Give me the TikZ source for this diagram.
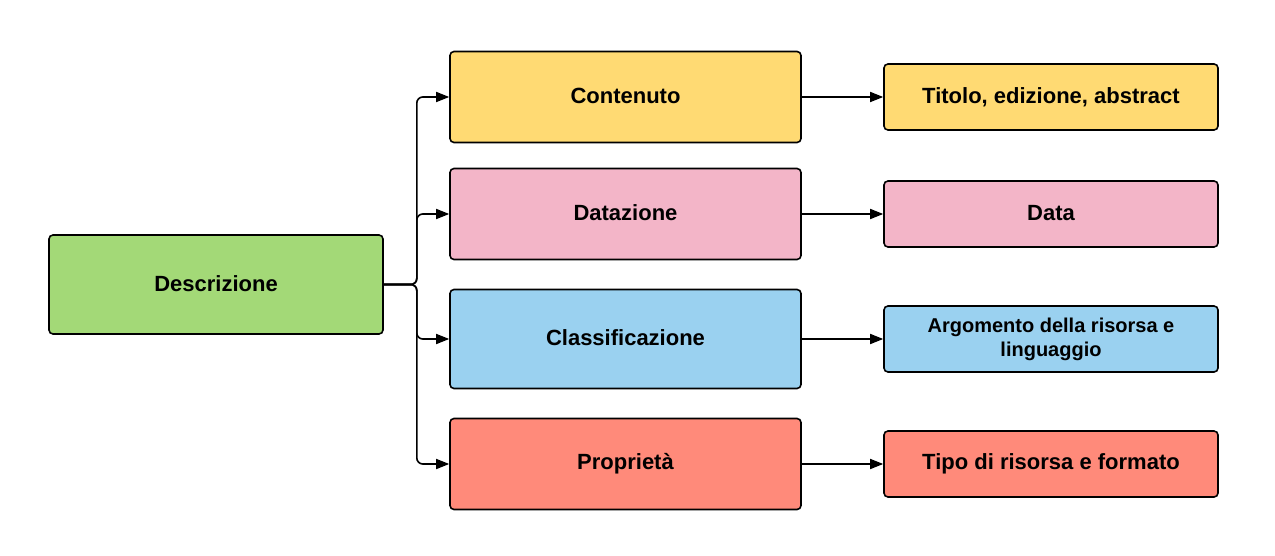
\documentclass[tikz,border=0pt]{standalone}
\usepackage{fontspec}
\setmainfont{Liberation Sans}
\usetikzlibrary{arrows.meta}
\definecolor{cgreen}{HTML}{A3D977}
\definecolor{cyellow}{HTML}{FFDA73}
\definecolor{cpink}{HTML}{F3B5C8}
\definecolor{cblue}{HTML}{9AD1F0}
\definecolor{cred}{HTML}{FF8A7A}
\tikzset{
  box/.style={draw=black, line width=1.6pt, rounded corners=4pt, align=center,
    font=\fontsize{22}{26}\selectfont\bfseries, inner sep=0pt},
  midbox/.style={box, minimum width=351pt, minimum height=91pt},
  rbox/.style={box, minimum width=334pt, minimum height=66pt},
  arr/.style={draw=black, line width=1.6pt, -{Triangle[length=13pt,width=10pt]}},
}
\begin{document}
\begin{tikzpicture}[x=1pt,y=-1pt]
\useasboundingbox (0,0) rectangle (1275,556);
\node[box, fill=cgreen, minimum width=334pt, minimum height=99pt] (desc) at (216,284.5) {\raisebox{2pt}{Descrizione}};
\node[midbox, fill=cyellow] (cont) at (625.5,97) {\raisebox{2pt}{Contenuto}};
\node[midbox, fill=cpink] (dat) at (625.5,214) {\raisebox{2pt}{Datazione}};
\node[midbox, fill=cblue, minimum height=99pt] (cla) at (625.5,339) {\raisebox{2pt}{Classificazione}};
\node[midbox, fill=cred] (pro) at (625.5,464) {\raisebox{2pt}{Proprietà}};
\node[rbox, fill=cyellow] (tit) at (1051,97) {\raisebox{2pt}{Titolo, edizione, abstract}};
\node[rbox, fill=cpink] (data) at (1051,214) {\raisebox{2pt}{Data}};
\node[rbox, fill=cblue, font=\fontsize{20}{24}\selectfont\bfseries] (arg) at (1051,339) {Argomento della risorsa e\\linguaggio};
\node[rbox, fill=cred] (tipo) at (1051,464) {\raisebox{2pt}{Tipo di risorsa e formato}};
\foreach \t in {cont,dat,cla,pro}
  \draw[arr, rounded corners=6pt] (desc.east) -- ++(33,0) |- (\t.west);
\draw[arr] (cont.east) -- (tit.west);
\draw[arr] (dat.east) -- (data.west);
\draw[arr] (cla.east) -- (arg.west);
\draw[arr] (pro.east) -- (tipo.west);
\end{tikzpicture}
\end{document}
